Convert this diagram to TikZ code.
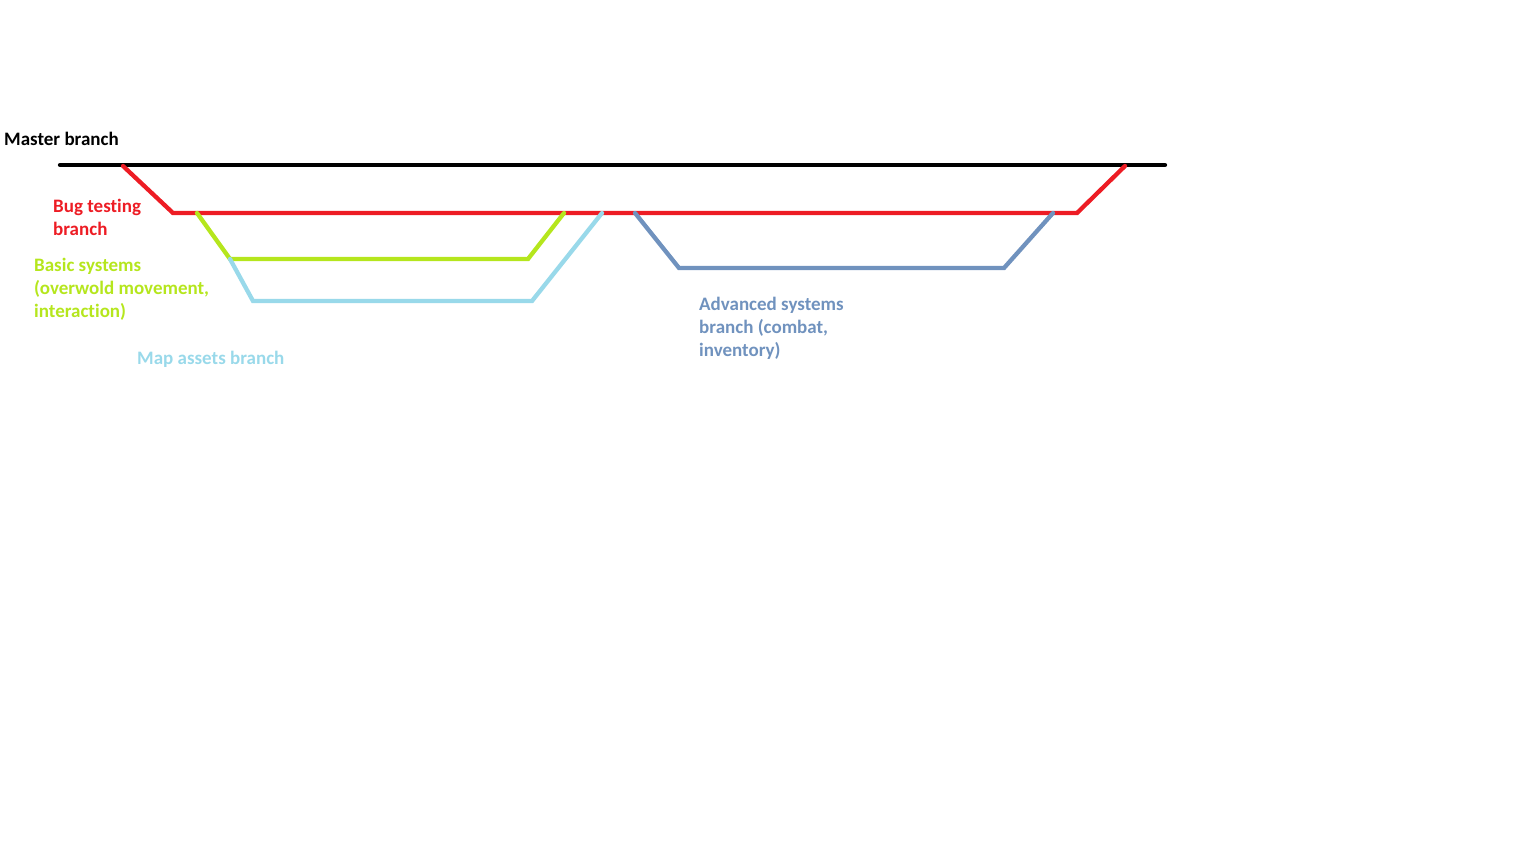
\documentclass[tikz,border=0pt]{standalone}
\usepackage{fontspec}
\setmainfont{Carlito}[Ligatures=NoCommon]
\definecolor{masterc}{HTML}{000000}
\definecolor{bugc}{HTML}{ED1C24}
\definecolor{basicc}{HTML}{B5E61D}
\definecolor{mapc}{HTML}{99D9EA}
\definecolor{advc}{HTML}{7092BE}
\tikzset{
  branch/.style = {line width=4.3pt, line join=miter, line cap=round},
  label/.style = {anchor=base west, inner sep=0pt, align=left,
    font=\fontsize{19}{23}\selectfont\bfseries}
}

\begin{document}
\begin{tikzpicture}[x=1pt,y=-1pt]
  \useasboundingbox (0,0) rectangle (1536,864);
  % master
  \coordinate (mL) at (60,165);
  \coordinate (mR) at (1165,165);
  \draw[branch,masterc] (mL) -- (mR);
  % bug testing
  \coordinate (bugOut) at (123,166);
  \coordinate (bugIn) at (1125,166);
  \draw[branch,bugc] (bugOut) -- (173,213) -- (1077,213) -- (bugIn);
  % basic systems
  \coordinate (basicOut) at (197,213);
  \coordinate (basicIn) at (564,213);
  \draw[branch,basicc] (basicOut) -- (230,259) -- (528,259) -- (basicIn);
  % map assets
  \coordinate (mapOut) at (230,259);
  \coordinate (mapIn) at (602,213);
  \draw[branch,mapc] (mapOut) -- (253,301) -- (532,301) -- (mapIn);
  % advanced systems
  \coordinate (advOut) at (635,213);
  \coordinate (advIn) at (1053,213);
  \draw[branch,advc] (advOut) -- (679,268) -- (1004,268) -- (advIn);
  % labels (base anchor sits on the last line)
  \node[label,text=masterc] (masterLbl) at (4,146) {Master branch};
  \node[label,text=bugc] (bugLbl) at (53,235) {Bug testing\\branch};
  \node[label,text=basicc] (basicLbl) at (34,317) {Basic systems\\(overwold movement,\\interaction)};
  \node[label,text=mapc] (mapLbl) at (137,364) {Map assets branch};
  \node[label,text=advc] (advLbl) at (699,356) {Advanced systems\\branch (combat,\\inventory)};
\end{tikzpicture}
\end{document}
